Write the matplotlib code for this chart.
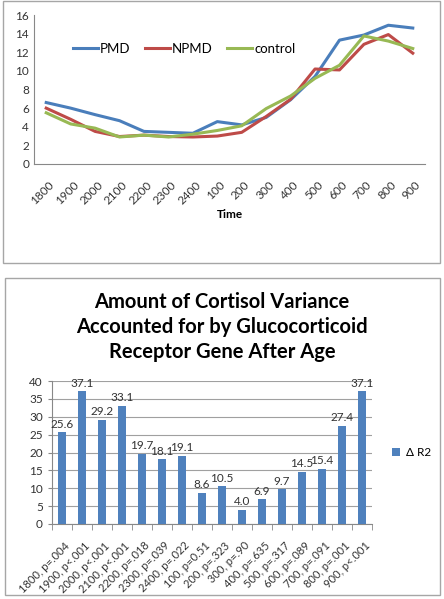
import matplotlib.pyplot as plt
from matplotlib.patches import Rectangle
from matplotlib.transforms import ScaledTranslation
import numpy as np

plt.rcParams['font.family'] = ['Lato', 'DejaVu Sans']

times = ['1800', '1900', '2000', '2100', '2200', '2300', '2400', '100',
         '200', '300', '400', '500', '600', '700', '800', '900']
pmd = [6.6, 6.0, 5.3, 4.65, 3.5, 3.4, 3.3, 4.55, 4.2, 5.0, 6.9, 9.4, 13.3, 13.85, 14.9, 14.6]
npmd = [6.0, 4.8, 3.5, 2.95, 3.1, 2.95, 2.9, 3.0, 3.4, 5.1, 6.95, 10.2, 10.1, 12.85, 13.9, 11.9]
control = [5.5, 4.3, 3.85, 2.9, 3.1, 2.9, 3.2, 3.6, 4.1, 5.95, 7.3, 9.2, 10.6, 13.75, 13.2, 12.4]

bar_labels = ['1800, p=.004', '1900, p<.001', '2000, p<.001', '2100, p<.001',
              '2200, p=.018', '2300, p=.039', '2400, p=.022', '100, p=0.51',
              '200, p=.323', '300, p=.90', '400, p=.635', '500, p=.317',
              '600, p=.089', '700, p=.091', '800, p=.001', '900, p<.001']
delta_r2 = [25.6, 37.1, 29.2, 33.1, 19.7, 18.1, 19.1, 8.6,
            10.5, 4.0, 6.9, 9.7, 14.5, 15.4, 27.4, 37.1]

fig = plt.figure(figsize=(4.44, 5.99), dpi=100)
W, H = 444, 599

# chart frames
for x0, y0, x1, y1 in [(3, 1, 440, 263), (5, 278, 440, 595)]:
    fig.patches.append(Rectangle((x0 / W, 1 - y1 / H), (x1 - x0) / W, (y1 - y0) / H,
                                 transform=fig.transFigure, fill=False,
                                 edgecolor='#a6a6a6', linewidth=1))


def shift_labels(ax, dx, dy):
    # nudge tick labels by (dx, dy) pixels
    off = ScaledTranslation(dx / 100, dy / 100, fig.dpi_scale_trans)
    for lab in ax.get_xticklabels():
        lab.set_transform(lab.get_transform() + off)


# ---- top line chart
ax1 = fig.add_axes([34 / W, 1 - 164 / H, (425 - 34) / W, (164 - 15) / H])
x = np.arange(len(times))
ax1.plot(x, pmd, color='#4a7ebb', lw=2.2, label='PMD')
ax1.plot(x, npmd, color='#be4b48', lw=2.2, label='NPMD')
ax1.plot(x, control, color='#98b954', lw=2.2, label='control')
ax1.set_xlim(-0.5, 15.5)
ax1.set_ylim(0, 16)
ax1.set_yticks(range(0, 17, 2))
ax1.set_xticks(x)
ax1.set_xticklabels(times, rotation=45, ha='right', va='center',
                    rotation_mode='anchor', fontsize=8.5)
ax1.tick_params(axis='both', length=0, labelsize=8.5, colors='#333333')
ax1.tick_params(axis='x', pad=8)
shift_labels(ax1, 6, -8)
for s in ['top', 'right']:
    ax1.spines[s].set_visible(False)
for s in ['left', 'bottom']:
    ax1.spines[s].set_color('#888888')
ax1.set_xlabel('Time', fontsize=8.5, fontweight='bold', labelpad=1.5)
ax1.legend(loc='center left', bbox_to_anchor=(0.1, 0.775), ncol=3, frameon=False,
           fontsize=9.5, handlelength=1.85, columnspacing=1.1, handletextpad=0.2,
           borderpad=0, borderaxespad=0)

# ---- bottom bar chart
ax2 = fig.add_axes([52 / W, 1 - 524 / H, (372 - 52) / W, (524 - 381) / H])
xb = np.arange(len(bar_labels))
bars = ax2.bar(xb, delta_r2, width=0.38, color='#4f81bd', label='\u0394 R2', zorder=3)
ax2.bar_label(bars, labels=[f'{v:.1f}' for v in delta_r2], padding=2,
              fontsize=8.5, color='#333333')
ax2.set_xlim(-0.5, 15.5)
ax2.set_ylim(0, 40)
ax2.set_yticks(range(0, 41, 5))
ax2.grid(axis='y', color='#a0a0a0', lw=0.8, zorder=0)
ax2.set_xticks(xb)
ax2.set_xticklabels(bar_labels, rotation=45, ha='right', va='center',
                    rotation_mode='anchor', fontsize=8)
ax2.set_xticks(np.arange(-0.5, 16, 1), minor=True)
ax2.tick_params(axis='x', which='major', length=0, pad=10, colors='#333333')
ax2.tick_params(axis='x', which='minor', length=4, color='#888888')
ax2.tick_params(axis='y', length=3, color='#888888', labelsize=8.5, colors='#333333')
shift_labels(ax2, 6, -6)
for s in ['top', 'right']:
    ax2.spines[s].set_visible(False)
for s in ['left', 'bottom']:
    ax2.spines[s].set_color('#888888')
ax2.legend(loc='center left', bbox_to_anchor=(1.03, 0.5), frameon=False,
           fontsize=8.5, handlelength=0.7, handleheight=0.7, handletextpad=0.5)

fig.text(222 / W, 1 - 327 / H,
         'Amount of Cortisol Variance\nAccounted for by Glucocorticoid\nReceptor Gene After Age',
         ha='center', va='center', fontsize=14.5, fontweight='bold',
         linespacing=1.3, color='black')

fig.savefig('out.png', dpi=100)
